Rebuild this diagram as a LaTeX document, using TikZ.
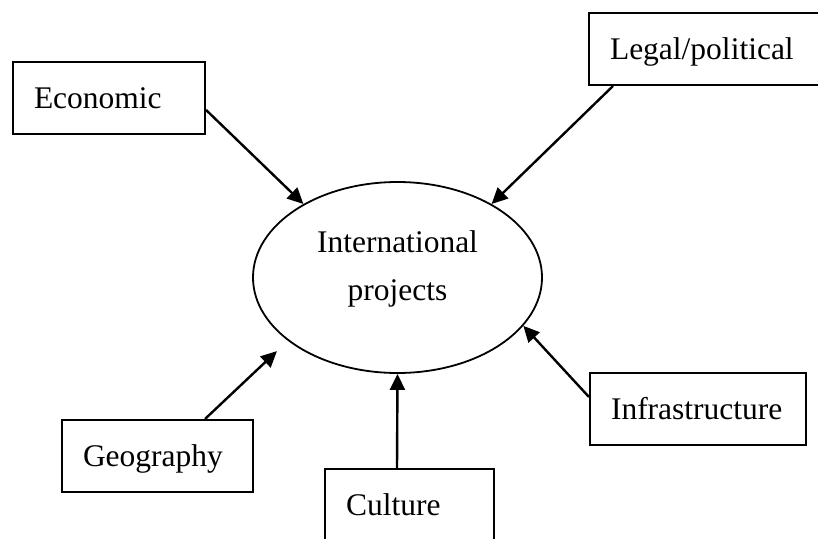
\documentclass[tikz,border=0pt]{standalone}
\usepackage{fontspec}
\setmainfont{Liberation Serif}
\usepackage{tikz}
\usetikzlibrary{arrows.meta,shapes.geometric}

\begin{document}
\begin{tikzpicture}[x=1pt,y=-1pt,
        font=\fontsize{31.5}{48}\selectfont,
        factor/.style={draw, line width=2pt, anchor=north west, align=left,
            minimum height=72pt, inner xsep=21pt, inner ysep=0pt,
            text height=26pt, text depth=6pt},
        hub/.style={draw, ellipse, line width=1.8pt, inner sep=0pt,
            minimum width=289pt, minimum height=191pt},
        push/.style={line width=2.4pt, -{Triangle[length=16pt,width=15pt]}}]
        \useasboundingbox (0,0) rectangle (818,538);

        \node[hub] (proj) at (397.5,277.5)
            {\raisebox{-22.5pt}[0pt][0pt]{\begin{tabular}[b]{@{}c@{}}International\\projects\end{tabular}}};

        % Factors around the project
        \node[factor, text width=150pt] (econ) at (12,61) {Economic};
        \node[factor, text width=200pt] (legal) at (588,12) {Legal/political};
        \node[factor, text width=149pt] (geo) at (61,419) {Geography};
        \node[factor, text width=127pt] (cult) at (324,468) {Culture};
        \node[factor, text width=174pt] (infra) at (589,372) {Infrastructure};

        % Influences
        \draw[push] (econ.-7) -- (proj.142.6);
        \draw[push] ([xshift=25pt]legal.south west) -- (proj.38);
        \draw[push, shorten >=15pt] ([xshift=144pt]geo.north west) -- (proj.210.7);
        \draw[push] ([xshift=73pt]cult.north west) -- (proj.south);
        \draw[push] ([yshift=-25pt]infra.north west) -- (proj.-21);
    \end{tikzpicture}
\end{document}
